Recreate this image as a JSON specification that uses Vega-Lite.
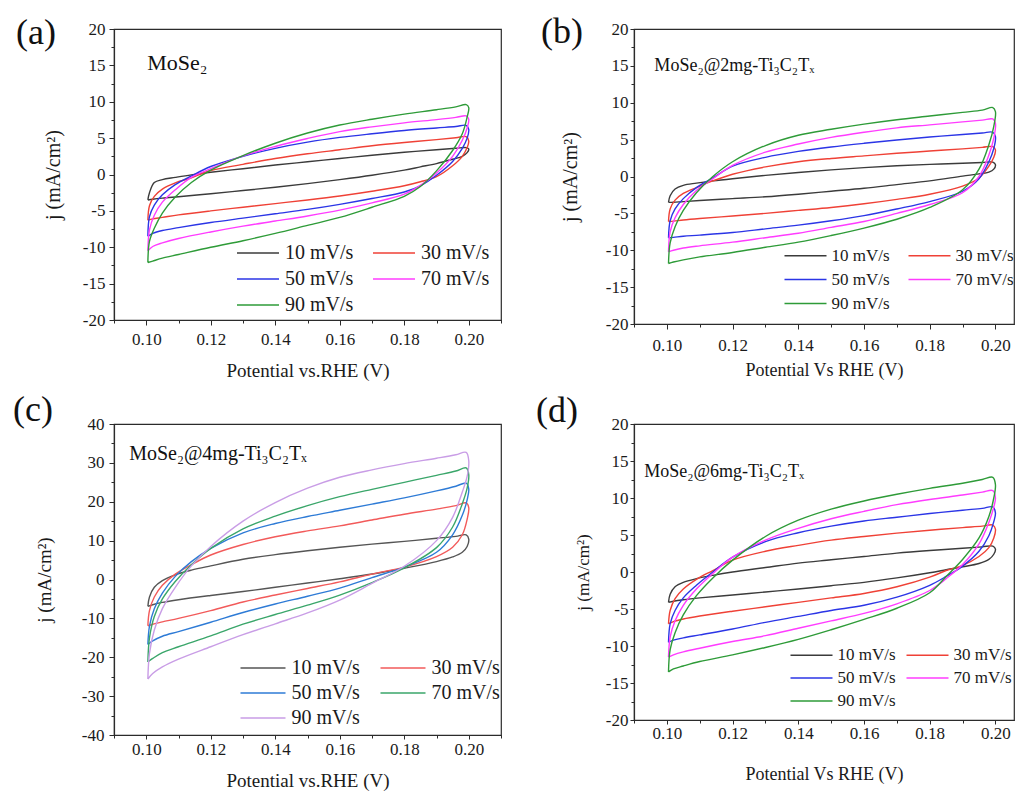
{
"$schema": "https://vega.github.io/schema/vega-lite/v6.json",
"background": "white",
"padding": {"left": 12, "top": 13, "right": 0, "bottom": 0},
"autosize": {"type": "pad"},
"datasets": {
"a": [
{"o":1,"x":0.1005,"10 mV/s":-3.5,"30 mV/s":-6.3,"50 mV/s":-8.5,"70 mV/s":-10.5,"90 mV/s":-12.1},
{"o":2,"x":0.101,"10 mV/s":-2.5,"30 mV/s":-4.3,"50 mV/s":-5.8,"70 mV/s":-7.6,"90 mV/s":-9.2},
{"o":3,"x":0.1025,"10 mV/s":-1.1,"30 mV/s":-3.0,"50 mV/s":-4.2,"70 mV/s":-5.6,"90 mV/s":-7.4},
{"o":4,"x":0.105,"10 mV/s":-0.7,"30 mV/s":-2.0,"50 mV/s":-2.8,"70 mV/s":-3.8,"90 mV/s":-5.3},
{"o":5,"x":0.109,"10 mV/s":-0.4,"30 mV/s":-1.15,"50 mV/s":-1.4,"70 mV/s":-2.1,"90 mV/s":-3.1},
{"o":6,"x":0.114,"10 mV/s":-0.05,"30 mV/s":-0.45,"50 mV/s":-0.2,"70 mV/s":-0.4,"90 mV/s":-1.1},
{"o":7,"x":0.12,"10 mV/s":0.3,"30 mV/s":0.55,"50 mV/s":1.1,"70 mV/s":0.8,"90 mV/s":0.6},
{"o":8,"x":0.13,"10 mV/s":0.8,"30 mV/s":1.4,"50 mV/s":2.5,"70 mV/s":2.55,"90 mV/s":2.6},
{"o":9,"x":0.14,"10 mV/s":1.3,"30 mV/s":2.2,"50 mV/s":3.6,"70 mV/s":3.85,"90 mV/s":4.3},
{"o":10,"x":0.15,"10 mV/s":1.75,"30 mV/s":2.85,"50 mV/s":4.45,"70 mV/s":4.95,"90 mV/s":5.7},
{"o":11,"x":0.16,"10 mV/s":2.2,"30 mV/s":3.4,"50 mV/s":5.1,"70 mV/s":5.9,"90 mV/s":6.8},
{"o":12,"x":0.17,"10 mV/s":2.65,"30 mV/s":3.95,"50 mV/s":5.6,"70 mV/s":6.55,"90 mV/s":7.6},
{"o":13,"x":0.18,"10 mV/s":3.05,"30 mV/s":4.4,"50 mV/s":6.05,"70 mV/s":7.1,"90 mV/s":8.3},
{"o":14,"x":0.19,"10 mV/s":3.4,"30 mV/s":4.8,"50 mV/s":6.4,"70 mV/s":7.55,"90 mV/s":8.9},
{"o":15,"x":0.196,"10 mV/s":3.6,"30 mV/s":5.05,"50 mV/s":6.6,"70 mV/s":7.85,"90 mV/s":9.3},
{"o":16,"x":0.1992,"10 mV/s":3.7,"30 mV/s":5.2,"50 mV/s":6.75,"70 mV/s":8.05,"90 mV/s":9.6},
{"o":17,"x":0.2,"10 mV/s":3.5,"30 mV/s":4.6,"50 mV/s":6.2,"70 mV/s":7.6,"90 mV/s":9.2},
{"o":18,"x":0.1995,"10 mV/s":3.0,"30 mV/s":3.7,"50 mV/s":5.0,"70 mV/s":6.4,"90 mV/s":7.9},
{"o":19,"x":0.198,"10 mV/s":2.5,"30 mV/s":2.5,"50 mV/s":3.6,"70 mV/s":4.7,"90 mV/s":5.6},
{"o":20,"x":0.195,"10 mV/s":2.1,"30 mV/s":1.2,"50 mV/s":1.8,"70 mV/s":2.5,"90 mV/s":3.3},
{"o":21,"x":0.19,"10 mV/s":1.5,"30 mV/s":-0.3,"50 mV/s":-0.1,"70 mV/s":0.2,"90 mV/s":0.5},
{"o":21.5,"x":0.185,"10 mV/s":1.05,"30 mV/s":-1.0,"50 mV/s":-1.55,"70 mV/s":-1.5,"90 mV/s":-1.65},
{"o":22,"x":0.18,"10 mV/s":0.6,"30 mV/s":-1.55,"50 mV/s":-2.4,"70 mV/s":-2.7,"90 mV/s":-3.0},
{"o":23,"x":0.17,"10 mV/s":-0.1,"30 mV/s":-2.3,"50 mV/s":-3.3,"70 mV/s":-3.9,"90 mV/s":-4.5},
{"o":24,"x":0.16,"10 mV/s":-0.7,"30 mV/s":-2.95,"50 mV/s":-4.1,"70 mV/s":-4.9,"90 mV/s":-5.9},
{"o":25,"x":0.15,"10 mV/s":-1.25,"30 mV/s":-3.5,"50 mV/s":-4.8,"70 mV/s":-5.7,"90 mV/s":-7.0},
{"o":26,"x":0.14,"10 mV/s":-1.75,"30 mV/s":-4.0,"50 mV/s":-5.4,"70 mV/s":-6.4,"90 mV/s":-8.1},
{"o":27,"x":0.13,"10 mV/s":-2.2,"30 mV/s":-4.5,"50 mV/s":-6.0,"70 mV/s":-7.1,"90 mV/s":-9.1},
{"o":28,"x":0.12,"10 mV/s":-2.65,"30 mV/s":-5.0,"50 mV/s":-6.6,"70 mV/s":-7.9,"90 mV/s":-10.0},
{"o":29,"x":0.11,"10 mV/s":-3.05,"30 mV/s":-5.55,"50 mV/s":-7.3,"70 mV/s":-8.8,"90 mV/s":-11.0},
{"o":30,"x":0.105,"10 mV/s":-3.25,"30 mV/s":-5.9,"50 mV/s":-7.7,"70 mV/s":-9.4,"90 mV/s":-11.5},
{"o":31,"x":0.102,"10 mV/s":-3.4,"30 mV/s":-6.1,"50 mV/s":-8.1,"70 mV/s":-9.9,"90 mV/s":-11.9},
{"o":32,"x":0.1005,"10 mV/s":-3.5,"30 mV/s":-6.3,"50 mV/s":-8.5,"70 mV/s":-10.5,"90 mV/s":-12.1}
],
"b": [
{"o":1,"x":0.1005,"10 mV/s":-3.5,"30 mV/s":-6.1,"50 mV/s":-8.3,"70 mV/s":-10.2,"90 mV/s":-11.8},
{"o":2,"x":0.101,"10 mV/s":-2.6,"30 mV/s":-4.4,"50 mV/s":-6.0,"70 mV/s":-7.5,"90 mV/s":-9.0},
{"o":3,"x":0.1025,"10 mV/s":-1.7,"30 mV/s":-3.2,"50 mV/s":-4.4,"70 mV/s":-5.6,"90 mV/s":-6.8},
{"o":4,"x":0.105,"10 mV/s":-1.2,"30 mV/s":-2.3,"50 mV/s":-3.0,"70 mV/s":-3.8,"90 mV/s":-4.6},
{"o":5,"x":0.109,"10 mV/s":-0.9,"30 mV/s":-1.5,"50 mV/s":-1.5,"70 mV/s":-1.9,"90 mV/s":-2.2},
{"o":6,"x":0.114,"10 mV/s":-0.6,"30 mV/s":-0.6,"50 mV/s":-0.2,"70 mV/s":-0.3,"90 mV/s":0.0},
{"o":7,"x":0.12,"10 mV/s":-0.3,"30 mV/s":0.3,"50 mV/s":1.4,"70 mV/s":1.5,"90 mV/s":2.0},
{"o":8,"x":0.13,"10 mV/s":0.15,"30 mV/s":1.3,"50 mV/s":2.6,"70 mV/s":3.3,"90 mV/s":4.2},
{"o":9,"x":0.14,"10 mV/s":0.55,"30 mV/s":2.0,"50 mV/s":3.4,"70 mV/s":4.4,"90 mV/s":5.6},
{"o":10,"x":0.15,"10 mV/s":0.9,"30 mV/s":2.45,"50 mV/s":4.0,"70 mV/s":5.3,"90 mV/s":6.4},
{"o":11,"x":0.16,"10 mV/s":1.2,"30 mV/s":2.8,"50 mV/s":4.5,"70 mV/s":6.0,"90 mV/s":7.1},
{"o":12,"x":0.17,"10 mV/s":1.45,"30 mV/s":3.15,"50 mV/s":4.95,"70 mV/s":6.6,"90 mV/s":7.7},
{"o":13,"x":0.18,"10 mV/s":1.65,"30 mV/s":3.45,"50 mV/s":5.35,"70 mV/s":7.0,"90 mV/s":8.2},
{"o":14,"x":0.19,"10 mV/s":1.8,"30 mV/s":3.75,"50 mV/s":5.7,"70 mV/s":7.4,"90 mV/s":8.7},
{"o":15,"x":0.196,"10 mV/s":1.9,"30 mV/s":3.95,"50 mV/s":5.9,"70 mV/s":7.65,"90 mV/s":9.0},
{"o":16,"x":0.1992,"10 mV/s":1.95,"30 mV/s":4.05,"50 mV/s":6.0,"70 mV/s":7.8,"90 mV/s":9.35},
{"o":17,"x":0.2,"10 mV/s":1.6,"30 mV/s":3.6,"50 mV/s":5.4,"70 mV/s":7.2,"90 mV/s":8.8},
{"o":18,"x":0.1995,"10 mV/s":1.0,"30 mV/s":2.6,"50 mV/s":3.8,"70 mV/s":5.2,"90 mV/s":6.8},
{"o":19,"x":0.198,"10 mV/s":0.6,"30 mV/s":1.4,"50 mV/s":2.0,"70 mV/s":2.9,"90 mV/s":4.3},
{"o":20,"x":0.195,"10 mV/s":0.35,"30 mV/s":-0.2,"50 mV/s":-0.3,"70 mV/s":0.0,"90 mV/s":1.0},
{"o":21,"x":0.19,"10 mV/s":0.05,"30 mV/s":-1.3,"50 mV/s":-2.0,"70 mV/s":-2.2,"90 mV/s":-1.8},
{"o":22,"x":0.18,"10 mV/s":-0.6,"30 mV/s":-2.4,"50 mV/s":-3.4,"70 mV/s":-3.8,"90 mV/s":-4.2},
{"o":23,"x":0.17,"10 mV/s":-1.1,"30 mV/s":-3.1,"50 mV/s":-4.4,"70 mV/s":-5.0,"90 mV/s":-5.8},
{"o":24,"x":0.16,"10 mV/s":-1.6,"30 mV/s":-3.7,"50 mV/s":-5.3,"70 mV/s":-6.1,"90 mV/s":-7.0},
{"o":25,"x":0.15,"10 mV/s":-2.0,"30 mV/s":-4.2,"50 mV/s":-6.0,"70 mV/s":-6.9,"90 mV/s":-8.0},
{"o":26,"x":0.14,"10 mV/s":-2.4,"30 mV/s":-4.6,"50 mV/s":-6.6,"70 mV/s":-7.7,"90 mV/s":-8.9},
{"o":27,"x":0.13,"10 mV/s":-2.75,"30 mV/s":-5.0,"50 mV/s":-7.1,"70 mV/s":-8.3,"90 mV/s":-9.6},
{"o":28,"x":0.12,"10 mV/s":-3.0,"30 mV/s":-5.35,"50 mV/s":-7.6,"70 mV/s":-8.9,"90 mV/s":-10.3},
{"o":29,"x":0.11,"10 mV/s":-3.25,"30 mV/s":-5.7,"50 mV/s":-7.95,"70 mV/s":-9.4,"90 mV/s":-10.9},
{"o":30,"x":0.105,"10 mV/s":-3.4,"30 mV/s":-5.9,"50 mV/s":-8.1,"70 mV/s":-9.7,"90 mV/s":-11.3},
{"o":31,"x":0.102,"10 mV/s":-3.5,"30 mV/s":-6.05,"50 mV/s":-8.25,"70 mV/s":-10.0,"90 mV/s":-11.6},
{"o":32,"x":0.1005,"10 mV/s":-3.5,"30 mV/s":-6.1,"50 mV/s":-8.3,"70 mV/s":-10.2,"90 mV/s":-11.8}
],
"c": [
{"o":1,"x":0.1005,"10 mV/s":-6.9,"30 mV/s":-11.9,"50 mV/s":-16.7,"70 mV/s":-21.2,"90 mV/s":-25.6},
{"o":2,"x":0.101,"10 mV/s":-4.5,"30 mV/s":-8.0,"50 mV/s":-12.0,"70 mV/s":-15.0,"90 mV/s":-19.0},
{"o":3,"x":0.1025,"10 mV/s":-2.0,"30 mV/s":-4.5,"50 mV/s":-7.5,"70 mV/s":-9.5,"90 mV/s":-13.0},
{"o":4,"x":0.105,"10 mV/s":-0.3,"30 mV/s":-1.5,"50 mV/s":-3.5,"70 mV/s":-5.0,"90 mV/s":-7.5},
{"o":5,"x":0.109,"10 mV/s":1.2,"30 mV/s":1.4,"50 mV/s":0.8,"70 mV/s":-0.5,"90 mV/s":-2.0},
{"o":6,"x":0.114,"10 mV/s":2.4,"30 mV/s":3.8,"50 mV/s":4.6,"70 mV/s":3.8,"90 mV/s":3.5},
{"o":7,"x":0.12,"10 mV/s":3.5,"30 mV/s":6.3,"50 mV/s":8.0,"70 mV/s":8.0,"90 mV/s":8.5},
{"o":8,"x":0.13,"10 mV/s":5.2,"30 mV/s":9.0,"50 mV/s":12.0,"70 mV/s":13.0,"90 mV/s":15.0},
{"o":9,"x":0.14,"10 mV/s":6.4,"30 mV/s":11.0,"50 mV/s":14.4,"70 mV/s":16.3,"90 mV/s":19.8},
{"o":10,"x":0.15,"10 mV/s":7.4,"30 mV/s":12.5,"50 mV/s":16.2,"70 mV/s":19.0,"90 mV/s":23.5},
{"o":11,"x":0.16,"10 mV/s":8.3,"30 mV/s":13.8,"50 mV/s":17.8,"70 mV/s":21.3,"90 mV/s":26.3},
{"o":12,"x":0.17,"10 mV/s":9.1,"30 mV/s":15.3,"50 mV/s":19.4,"70 mV/s":23.2,"90 mV/s":28.2},
{"o":13,"x":0.18,"10 mV/s":9.8,"30 mV/s":16.8,"50 mV/s":21.0,"70 mV/s":25.0,"90 mV/s":29.8},
{"o":14,"x":0.19,"10 mV/s":10.6,"30 mV/s":18.1,"50 mV/s":22.8,"70 mV/s":26.8,"90 mV/s":31.2},
{"o":15,"x":0.196,"10 mV/s":11.1,"30 mV/s":19.0,"50 mV/s":24.0,"70 mV/s":27.9,"90 mV/s":32.1},
{"o":16,"x":0.1992,"10 mV/s":11.5,"30 mV/s":19.7,"50 mV/s":24.8,"70 mV/s":28.7,"90 mV/s":32.7},
{"o":17,"x":0.2,"10 mV/s":10.4,"30 mV/s":18.5,"50 mV/s":23.3,"70 mV/s":27.0,"90 mV/s":30.5},
{"o":18,"x":0.1995,"10 mV/s":8.5,"30 mV/s":15.5,"50 mV/s":20.5,"70 mV/s":23.5,"90 mV/s":26.5},
{"o":19,"x":0.198,"10 mV/s":7.0,"30 mV/s":11.5,"50 mV/s":16.5,"70 mV/s":19.5,"90 mV/s":22.5},
{"o":20,"x":0.195,"10 mV/s":5.8,"30 mV/s":8.3,"50 mV/s":11.5,"70 mV/s":13.5,"90 mV/s":16.0},
{"o":21,"x":0.19,"10 mV/s":4.6,"30 mV/s":5.9,"50 mV/s":7.0,"70 mV/s":8.2,"90 mV/s":10.0},
{"o":22,"x":0.18,"10 mV/s":2.9,"30 mV/s":3.2,"50 mV/s":3.2,"70 mV/s":3.0,"90 mV/s":3.4},
{"o":23,"x":0.17,"10 mV/s":1.4,"30 mV/s":1.4,"50 mV/s":0.5,"70 mV/s":-0.8,"90 mV/s":-1.0},
{"o":24,"x":0.16,"10 mV/s":0.2,"30 mV/s":-0.6,"50 mV/s":-2.2,"70 mV/s":-4.0,"90 mV/s":-5.3},
{"o":25,"x":0.15,"10 mV/s":-0.9,"30 mV/s":-2.3,"50 mV/s":-4.3,"70 mV/s":-6.6,"90 mV/s":-8.6},
{"o":26,"x":0.14,"10 mV/s":-2.0,"30 mV/s":-4.0,"50 mV/s":-6.3,"70 mV/s":-9.0,"90 mV/s":-11.4},
{"o":27,"x":0.13,"10 mV/s":-3.1,"30 mV/s":-5.8,"50 mV/s":-8.5,"70 mV/s":-11.5,"90 mV/s":-14.2},
{"o":28,"x":0.12,"10 mV/s":-4.1,"30 mV/s":-8.0,"50 mV/s":-11.0,"70 mV/s":-14.5,"90 mV/s":-17.3},
{"o":29,"x":0.11,"10 mV/s":-5.2,"30 mV/s":-10.0,"50 mV/s":-13.4,"70 mV/s":-17.3,"90 mV/s":-20.5},
{"o":30,"x":0.105,"10 mV/s":-5.9,"30 mV/s":-10.9,"50 mV/s":-14.6,"70 mV/s":-18.8,"90 mV/s":-22.5},
{"o":31,"x":0.102,"10 mV/s":-6.5,"30 mV/s":-11.5,"50 mV/s":-15.8,"70 mV/s":-20.3,"90 mV/s":-24.2},
{"o":32,"x":0.1005,"10 mV/s":-6.9,"30 mV/s":-11.9,"50 mV/s":-16.7,"70 mV/s":-21.2,"90 mV/s":-25.6}
],
"d": [
{"o":1,"x":0.1005,"10 mV/s":-4.1,"30 mV/s":-7.0,"50 mV/s":-9.5,"70 mV/s":-11.5,"90 mV/s":-13.5},
{"o":2,"x":0.101,"10 mV/s":-3.0,"30 mV/s":-5.2,"50 mV/s":-7.0,"70 mV/s":-8.8,"90 mV/s":-10.5},
{"o":3,"x":0.1025,"10 mV/s":-2.0,"30 mV/s":-3.6,"50 mV/s":-5.2,"70 mV/s":-6.6,"90 mV/s":-8.2},
{"o":4,"x":0.105,"10 mV/s":-1.4,"30 mV/s":-2.3,"50 mV/s":-3.5,"70 mV/s":-4.5,"90 mV/s":-5.8},
{"o":5,"x":0.109,"10 mV/s":-0.9,"30 mV/s":-1.0,"50 mV/s":-1.8,"70 mV/s":-2.3,"90 mV/s":-3.2},
{"o":6,"x":0.114,"10 mV/s":-0.45,"30 mV/s":0.2,"50 mV/s":0.0,"70 mV/s":-0.2,"90 mV/s":-0.8},
{"o":7,"x":0.12,"10 mV/s":0.0,"30 mV/s":1.6,"50 mV/s":2.0,"70 mV/s":2.0,"90 mV/s":1.6},
{"o":8,"x":0.13,"10 mV/s":0.6,"30 mV/s":2.8,"50 mV/s":4.1,"70 mV/s":4.3,"90 mV/s":4.8},
{"o":9,"x":0.14,"10 mV/s":1.2,"30 mV/s":3.6,"50 mV/s":5.3,"70 mV/s":5.9,"90 mV/s":7.0},
{"o":10,"x":0.15,"10 mV/s":1.65,"30 mV/s":4.3,"50 mV/s":6.2,"70 mV/s":7.2,"90 mV/s":8.5},
{"o":11,"x":0.16,"10 mV/s":2.1,"30 mV/s":4.8,"50 mV/s":6.9,"70 mV/s":8.2,"90 mV/s":9.6},
{"o":12,"x":0.17,"10 mV/s":2.55,"30 mV/s":5.25,"50 mV/s":7.4,"70 mV/s":9.1,"90 mV/s":10.5},
{"o":13,"x":0.18,"10 mV/s":2.9,"30 mV/s":5.65,"50 mV/s":7.9,"70 mV/s":9.8,"90 mV/s":11.3},
{"o":14,"x":0.19,"10 mV/s":3.2,"30 mV/s":6.0,"50 mV/s":8.35,"70 mV/s":10.4,"90 mV/s":12.0},
{"o":15,"x":0.196,"10 mV/s":3.4,"30 mV/s":6.2,"50 mV/s":8.6,"70 mV/s":10.8,"90 mV/s":12.5},
{"o":16,"x":0.1992,"10 mV/s":3.5,"30 mV/s":6.35,"50 mV/s":8.8,"70 mV/s":11.0,"90 mV/s":12.8},
{"o":17,"x":0.2,"10 mV/s":3.1,"30 mV/s":5.8,"50 mV/s":8.0,"70 mV/s":10.0,"90 mV/s":11.8},
{"o":18,"x":0.1995,"10 mV/s":2.4,"30 mV/s":4.6,"50 mV/s":6.8,"70 mV/s":8.8,"90 mV/s":10.0},
{"o":19,"x":0.198,"10 mV/s":1.7,"30 mV/s":3.3,"50 mV/s":4.9,"70 mV/s":6.7,"90 mV/s":7.5},
{"o":20,"x":0.195,"10 mV/s":1.15,"30 mV/s":2.1,"50 mV/s":2.8,"70 mV/s":3.8,"90 mV/s":4.6},
{"o":21,"x":0.19,"10 mV/s":0.7,"30 mV/s":0.9,"50 mV/s":0.8,"70 mV/s":1.0,"90 mV/s":1.7},
{"o":21.5,"x":0.185,"10 mV/s":0.3,"30 mV/s":0.2,"50 mV/s":-0.6,"70 mV/s":-0.9,"90 mV/s":-0.6},
{"o":22,"x":0.18,"10 mV/s":-0.1,"30 mV/s":-0.7,"50 mV/s":-1.8,"70 mV/s":-2.5,"90 mV/s":-2.8},
{"o":23,"x":0.17,"10 mV/s":-0.8,"30 mV/s":-2.0,"50 mV/s":-3.4,"70 mV/s":-4.3,"90 mV/s":-4.9},
{"o":24,"x":0.16,"10 mV/s":-1.4,"30 mV/s":-2.9,"50 mV/s":-4.5,"70 mV/s":-5.6,"90 mV/s":-6.4},
{"o":25,"x":0.15,"10 mV/s":-1.85,"30 mV/s":-3.5,"50 mV/s":-5.2,"70 mV/s":-6.6,"90 mV/s":-7.8},
{"o":26,"x":0.14,"10 mV/s":-2.3,"30 mV/s":-4.1,"50 mV/s":-6.0,"70 mV/s":-7.6,"90 mV/s":-9.1},
{"o":27,"x":0.13,"10 mV/s":-2.7,"30 mV/s":-4.7,"50 mV/s":-6.8,"70 mV/s":-8.6,"90 mV/s":-10.2},
{"o":28,"x":0.12,"10 mV/s":-3.1,"30 mV/s":-5.3,"50 mV/s":-7.7,"70 mV/s":-9.4,"90 mV/s":-11.2},
{"o":29,"x":0.11,"10 mV/s":-3.5,"30 mV/s":-5.95,"50 mV/s":-8.5,"70 mV/s":-10.3,"90 mV/s":-12.1},
{"o":30,"x":0.105,"10 mV/s":-3.75,"30 mV/s":-6.35,"50 mV/s":-8.9,"70 mV/s":-10.8,"90 mV/s":-12.7},
{"o":31,"x":0.102,"10 mV/s":-3.95,"30 mV/s":-6.7,"50 mV/s":-9.2,"70 mV/s":-11.2,"90 mV/s":-13.1},
{"o":32,"x":0.1005,"10 mV/s":-4.1,"30 mV/s":-7.0,"50 mV/s":-9.5,"70 mV/s":-11.5,"90 mV/s":-13.5}
]
},
"columns": 2,
"spacing": {"row": 100, "column": 133},
"bounds": "flush",
"resolve": {"scale": {"x": "independent", "y": "independent", "color": "independent"}, "axis": {"x": "independent", "y": "independent"}, "legend": {"color": "independent"}},
"concat": [
{
"width": 387, "height": 291,
"title": {"text": "(a)", "anchor": "start", "frame": "group", "orient": "top", "offset": 0, "dx": -98, "dy": 60, "baseline": "alphabetic", "fontSize": 36, "color": "#111111"},
"resolve": {"axis": {"x": "independent", "y": "independent"}},
"layer": [
{
"data": {"name": "a"},
"transform": [{"fold": ["10 mV/s", "30 mV/s", "50 mV/s", "70 mV/s", "90 mV/s"], "as": ["rate", "j"]}],
"mark": {"type": "line", "interpolate": "catmull-rom", "strokeWidth": 1.4},
"encoding": {
"x": {"field": "x", "type": "quantitative", "scale": {"domain": [0.09, 0.21], "nice": false, "zero": false}, "axis": {"values": [0.1, 0.12, 0.14, 0.16, 0.18, 0.2], "format": ".2f", "title": "Potential vs.RHE (V)", "tickSize": 5, "labelPadding": 6, "titlePadding": 14, "labelFontSize": 17, "titleFontSize": 19}},
"y": {"field": "j", "type": "quantitative", "scale": {"domain": [-20, 20], "nice": false, "zero": false}, "axis": {"values": [-20, -15, -10, -5, 0, 5, 10, 15, 20], "labelExpr": "datum.value + ''", "title": "j (mA/cm²)", "tickSize": 5, "labelPadding": 4, "titlePadding": 19, "labelFontSize": 17, "titleFontSize": 20}},
"color": {"field": "rate", "type": "nominal", "scale": {"domain": ["10 mV/s", "30 mV/s", "50 mV/s", "70 mV/s", "90 mV/s"], "range": ["#3b3b3b", "#ef4136", "#2b35e6", "#ff3cff", "#2e9b38"]}, "legend": {"orient": "none", "direction": "horizontal", "legendX": 134, "legendY": 214, "columns": 2, "title": null, "padding": 0, "symbolType": "M-3,0H3", "symbolSize": 196, "symbolStrokeWidth": 1.5, "labelFontSize": 20, "labelOffset": 17, "rowPadding": 6, "columnPadding": 16}},
"order": {"field": "o", "type": "quantitative"}
}
},
{
"data": {"values": [{}]},
"mark": {"type": "text", "text": "MoSe₂", "align": "left", "baseline": "alphabetic", "fontSize": 22, "color": "#111111"},
"encoding": {
"x": {"datum": 0.1003, "type": "quantitative", "scale": {"domain": [0.09, 0.21], "nice": false, "zero": false}, "axis": null},
"y": {"datum": 14.4, "type": "quantitative", "scale": {"domain": [-20, 20], "nice": false, "zero": false}, "axis": null}
}
},
{
"data": {"values": [{}]},
"mark": {"type": "point", "opacity": 0},
"encoding": {
"x": {"datum": 0.15, "type": "quantitative", "scale": {"domain": [0.09, 0.21], "nice": false, "zero": false}, "axis": {"values": [0.09, 0.11, 0.13, 0.15, 0.17, 0.19, 0.21], "labels": false, "tickSize": 3, "domain": false, "title": null, "orient": "bottom"}},
"y": {"datum": 0, "type": "quantitative", "scale": {"domain": [-20, 20], "nice": false, "zero": false}, "axis": {"values": [-17.5, -12.5, -7.5, -2.5, 2.5, 7.5, 12.5, 17.5], "labels": false, "tickSize": 3, "domain": false, "title": null, "orient": "left"}}
}
}
]
},
{
"width": 380, "height": 295,
"title": {"text": "(b)", "anchor": "start", "frame": "group", "orient": "top", "offset": 0, "dx": -93, "dy": 59, "baseline": "alphabetic", "fontSize": 36, "color": "#111111"},
"resolve": {"axis": {"x": "independent", "y": "independent"}},
"layer": [
{
"data": {"name": "b"},
"transform": [{"fold": ["10 mV/s", "30 mV/s", "50 mV/s", "70 mV/s", "90 mV/s"], "as": ["rate", "j"]}],
"mark": {"type": "line", "interpolate": "catmull-rom", "strokeWidth": 1.4},
"encoding": {
"x": {"field": "x", "type": "quantitative", "scale": {"domain": [0.09, 0.20565], "nice": false, "zero": false}, "axis": {"values": [0.1, 0.12, 0.14, 0.16, 0.18, 0.2], "format": ".2f", "title": "Potential Vs RHE (V)", "tickSize": 5, "labelPadding": 8, "titlePadding": 8, "labelFontSize": 17, "titleFontSize": 18}},
"y": {"field": "j", "type": "quantitative", "scale": {"domain": [-20, 20], "nice": false, "zero": false}, "axis": {"values": [-20, -15, -10, -5, 0, 5, 10, 15, 20], "labelExpr": "datum.value + ''", "title": "j (mA/cm²)", "tickSize": 4, "labelPadding": 2, "titlePadding": 25, "labelFontSize": 17, "titleFontSize": 20}},
"color": {"field": "rate", "type": "nominal", "scale": {"domain": ["10 mV/s", "30 mV/s", "50 mV/s", "70 mV/s", "90 mV/s"], "range": ["#3b3b3b", "#ef4136", "#2b35e6", "#ff3cff", "#2e9b38"]}, "legend": {"orient": "none", "direction": "horizontal", "legendX": 163, "legendY": 218, "columns": 2, "title": null, "padding": 0, "symbolType": "M-3,0H3", "symbolSize": 196, "symbolStrokeWidth": 1.5, "labelFontSize": 17, "labelOffset": 17.5, "rowPadding": 6, "columnPadding": 15}},
"order": {"field": "o", "type": "quantitative"}
}
},
{
"data": {"values": [{}]},
"mark": {"type": "text", "text": "MoSe₂@2mg-Ti₃C₂Tₓ", "align": "left", "baseline": "alphabetic", "fontSize": 18, "color": "#111111"},
"encoding": {
"x": {"datum": 0.0962, "type": "quantitative", "scale": {"domain": [0.09, 0.20565], "nice": false, "zero": false}, "axis": null},
"y": {"datum": 14.3, "type": "quantitative", "scale": {"domain": [-20, 20], "nice": false, "zero": false}, "axis": null}
}
},
{
"data": {"values": [{}]},
"mark": {"type": "point", "opacity": 0},
"encoding": {
"x": {"datum": 0.15, "type": "quantitative", "scale": {"domain": [0.09, 0.20565], "nice": false, "zero": false}, "axis": {"values": [0.09, 0.11, 0.13, 0.15, 0.17, 0.19], "labels": false, "tickSize": 3, "domain": false, "title": null, "orient": "bottom"}},
"y": {"datum": 0, "type": "quantitative", "scale": {"domain": [-20, 20], "nice": false, "zero": false}, "axis": {"values": [-17.5, -12.5, -7.5, -2.5, 2.5, 7.5, 12.5, 17.5], "labels": false, "tickSize": 3, "domain": false, "title": null, "orient": "left"}}
}
}
]
},
{
"width": 387, "height": 311,
"title": {"text": "(c)", "anchor": "start", "frame": "group", "orient": "top", "offset": 0, "dx": -101, "dy": 42, "baseline": "alphabetic", "fontSize": 36, "color": "#111111"},
"resolve": {"axis": {"x": "independent", "y": "independent"}},
"layer": [
{
"data": {"name": "c"},
"transform": [{"fold": ["10 mV/s", "30 mV/s", "50 mV/s", "70 mV/s", "90 mV/s"], "as": ["rate", "j"]}],
"mark": {"type": "line", "interpolate": "catmull-rom", "strokeWidth": 1.4},
"encoding": {
"x": {"field": "x", "type": "quantitative", "scale": {"domain": [0.09, 0.21], "nice": false, "zero": false}, "axis": {"values": [0.1, 0.12, 0.14, 0.16, 0.18, 0.2], "format": ".2f", "title": "Potential vs.RHE (V)", "tickSize": 4, "labelPadding": 2, "titlePadding": 14, "labelFontSize": 17, "titleFontSize": 19}},
"y": {"field": "j", "type": "quantitative", "scale": {"domain": [-40, 40], "nice": false, "zero": false}, "axis": {"values": [-40, -30, -20, -10, 0, 10, 20, 30, 40], "labelExpr": "datum.value + ''", "title": "j (mA/cm²)", "tickSize": 5, "labelPadding": 5, "titlePadding": 27, "labelFontSize": 17, "titleFontSize": 19}},
"color": {"field": "rate", "type": "nominal", "scale": {"domain": ["10 mV/s", "30 mV/s", "50 mV/s", "70 mV/s", "90 mV/s"], "range": ["#555555", "#f25a5a", "#2e7bd6", "#3aa66a", "#c99de6"]}, "legend": {"orient": "none", "direction": "horizontal", "legendX": 139, "legendY": 234, "columns": 2, "title": null, "padding": 0, "symbolType": "M-3,0H3", "symbolSize": 225, "symbolStrokeWidth": 1.5, "labelFontSize": 20, "labelOffset": 18.5, "rowPadding": 5, "columnPadding": 17}},
"order": {"field": "o", "type": "quantitative"}
}
},
{
"data": {"values": [{}]},
"mark": {"type": "text", "text": "MoSe₂@4mg-Ti₃C₂Tₓ", "align": "left", "baseline": "alphabetic", "fontSize": 20, "color": "#111111"},
"encoding": {
"x": {"datum": 0.0947, "type": "quantitative", "scale": {"domain": [0.09, 0.21], "nice": false, "zero": false}, "axis": null},
"y": {"datum": 30.7, "type": "quantitative", "scale": {"domain": [-40, 40], "nice": false, "zero": false}, "axis": null}
}
},
{
"data": {"values": [{}]},
"mark": {"type": "point", "opacity": 0},
"encoding": {
"x": {"datum": 0.15, "type": "quantitative", "scale": {"domain": [0.09, 0.21], "nice": false, "zero": false}, "axis": {"values": [0.09, 0.11, 0.13, 0.15, 0.17, 0.19, 0.21], "labels": false, "tickSize": 3, "domain": false, "title": null, "orient": "bottom"}},
"y": {"datum": 0, "type": "quantitative", "scale": {"domain": [-40, 40], "nice": false, "zero": false}, "axis": {"values": [-35, -25, -15, -5, 5, 15, 25, 35], "labels": false, "tickSize": 3, "domain": false, "title": null, "orient": "left"}}
}
}
]
},
{
"width": 380, "height": 296,
"title": {"text": "(d)", "anchor": "start", "frame": "group", "orient": "top", "offset": 0, "dx": -98, "dy": 43, "baseline": "alphabetic", "fontSize": 36, "color": "#111111"},
"resolve": {"axis": {"x": "independent", "y": "independent"}},
"layer": [
{
"data": {"name": "d"},
"transform": [{"fold": ["10 mV/s", "30 mV/s", "50 mV/s", "70 mV/s", "90 mV/s"], "as": ["rate", "j"]}],
"mark": {"type": "line", "interpolate": "catmull-rom", "strokeWidth": 1.4},
"encoding": {
"x": {"field": "x", "type": "quantitative", "scale": {"domain": [0.09, 0.20565], "nice": false, "zero": false}, "axis": {"values": [0.1, 0.12, 0.14, 0.16, 0.18, 0.2], "format": ".2f", "title": "Potential Vs RHE (V)", "tickSize": 4, "labelPadding": 1, "titlePadding": 24, "labelFontSize": 17, "titleFontSize": 18}},
"y": {"field": "j", "type": "quantitative", "scale": {"domain": [-20, 20], "nice": false, "zero": false}, "axis": {"values": [-20, -15, -10, -5, 0, 5, 10, 15, 20], "labelExpr": "datum.value + ''", "title": "j (mA/cm²)", "tickSize": 4, "labelPadding": 2, "titlePadding": 13, "labelFontSize": 17, "titleFontSize": 17}},
"color": {"field": "rate", "type": "nominal", "scale": {"domain": ["10 mV/s", "30 mV/s", "50 mV/s", "70 mV/s", "90 mV/s"], "range": ["#3b3b3b", "#ef4136", "#2b35e6", "#ff3cff", "#2e9b38"]}, "legend": {"orient": "none", "direction": "horizontal", "legendX": 169, "legendY": 222.5, "columns": 2, "title": null, "padding": 0, "symbolType": "M-3,0H3", "symbolSize": 196, "symbolStrokeWidth": 1.5, "labelFontSize": 17, "labelOffset": 17.5, "rowPadding": 5, "columnPadding": 7}},
"order": {"field": "o", "type": "quantitative"}
}
},
{
"data": {"values": [{}]},
"mark": {"type": "text", "text": "MoSe₂@6mg-Ti₃C₂Tₓ", "align": "left", "baseline": "alphabetic", "fontSize": 18, "color": "#111111"},
"encoding": {
"x": {"datum": 0.0931, "type": "quantitative", "scale": {"domain": [0.09, 0.20565], "nice": false, "zero": false}, "axis": null},
"y": {"datum": 12.9, "type": "quantitative", "scale": {"domain": [-20, 20], "nice": false, "zero": false}, "axis": null}
}
},
{
"data": {"values": [{}]},
"mark": {"type": "point", "opacity": 0},
"encoding": {
"x": {"datum": 0.15, "type": "quantitative", "scale": {"domain": [0.09, 0.20565], "nice": false, "zero": false}, "axis": {"values": [0.09, 0.11, 0.13, 0.15, 0.17, 0.19], "labels": false, "tickSize": 3, "domain": false, "title": null, "orient": "bottom"}},
"y": {"datum": 0, "type": "quantitative", "scale": {"domain": [-20, 20], "nice": false, "zero": false}, "axis": {"values": [-17.5, -12.5, -7.5, -2.5, 2.5, 7.5, 12.5, 17.5], "labels": false, "tickSize": 3, "domain": false, "title": null, "orient": "left"}}
}
}
]
}
],
"config": {
"font": "Liberation Serif",
"view": {"stroke": "#2b2b2b", "strokeWidth": 1.2},
"axis": {"grid": false, "domainColor": "#2b2b2b", "tickColor": "#2b2b2b", "labelColor": "#1a1a1a", "titleColor": "#1a1a1a", "labelFont": "Liberation Serif", "titleFont": "Liberation Serif", "titleFontWeight": "normal", "labelOverlap": false, "labelFlush": false, "domainWidth": 1.2, "tickWidth": 1},
"legend": {"labelFont": "Liberation Serif", "labelColor": "#1a1a1a"},
"title": {"font": "Liberation Serif", "fontWeight": "normal"}
}
}
